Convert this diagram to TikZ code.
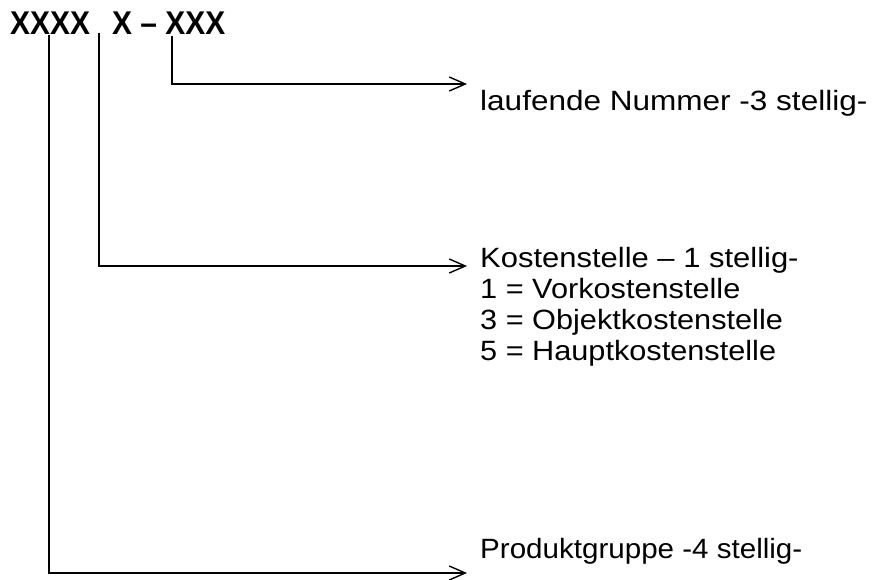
\documentclass[tikz,border=0pt]{standalone}
\usepackage{fontspec}
\setmainfont{Liberation Sans}
\usetikzlibrary{arrows.meta}
\newcommand{\wtxt}[2][1.1]{\scalebox{#1}[1]{#2}}
\newcommand{\ntxt}[1]{\scalebox{0.91}[1]{#1}}
\tikzset{
  hdr/.style={inner sep=0pt, anchor=base west, font=\fontsize{33}{38}\selectfont\bfseries},
  lbl/.style={inner sep=0pt, anchor=base west, font=\fontsize{28}{31}\selectfont, align=left},
  conn/.style={line width=1.6bp, -{Straight Barb[length=16bp,width=14bp,line width=1.4bp]}},
}
\begin{document}
\begin{tikzpicture}[x=1bp,y=-1bp]
\useasboundingbox (0,0) rectangle (872,580);
\node[hdr] (h1) at (10,35) {\ntxt{XXXX}};
\node[hdr] (h2) at (112,35) {\ntxt{X – XXX}};
\coordinate (s1) at (49,35);
\coordinate (s2) at (99,33);
\coordinate (s3) at (172,36);
\coordinate (e1) at (467,573);
\coordinate (e2) at (467,266);
\coordinate (e3) at (467,84);
\node[lbl] (l3) at (480,111) {\wtxt[1.13]{laufende Nummer -3 stellig-}};
\node[lbl] (l2) at (480,267) {\wtxt[1.11]{Kostenstelle – 1 stellig-}};
\node[lbl] (l2a) at (480,298) {\wtxt{1 = Vorkostenstelle}};
\node[lbl] (l2b) at (480,329) {\wtxt{3 = Objektkostenstelle}};
\node[lbl] (l2c) at (480,360) {\wtxt{5 = Hauptkostenstelle}};
\node[lbl] (l1) at (480,558) {\wtxt[1.06]{Produktgruppe -4 stellig-}};
\draw[conn] (s1) |- (e1);
\draw[conn] (s2) |- (e2);
\draw[conn] (s3) |- (e3);
\end{tikzpicture}
\end{document}
